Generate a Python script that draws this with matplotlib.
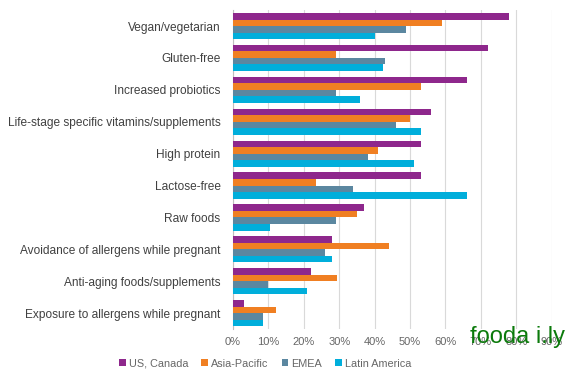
import matplotlib.pyplot as plt
import numpy as np

plt.rcParams['font.family'] = ['Liberation Sans', 'DejaVu Sans']

categories = ['Vegan/vegetarian', 'Gluten-free', 'Increased probiotics',
              'Life-stage specific vitamins/supplements', 'High protein',
              'Lactose-free', 'Raw foods', 'Avoidance of allergens while pregnant',
              'Anti-aging foods/supplements', 'Exposure to allergens while pregnant']
series_names = ['US, Canada', 'Asia-Pacific', 'EMEA', 'Latin America']
us_canada = [78, 72, 66, 56, 53, 53, 37, 28, 22, 3]
asia_pacific = [59, 29, 53, 50, 41, 23.5, 35, 44, 29.5, 12]
emea = [49, 43, 29, 46, 38, 34, 29, 26, 10, 8.5]
latin_america = [40, 42.5, 36, 53, 51, 66, 10.5, 28, 21, 8.5]
xticks = [0, 10, 20, 30, 40, 50, 60, 70, 80, 90]
colors = ['#8E278C', '#F07F22', '#5B87A0', '#00AEDB']

fig = plt.figure(figsize=(5.74, 3.74), dpi=100)
ax = fig.add_axes([0.406, 0.12, 0.555, 0.853])

y = np.arange(len(categories))
h = 0.205
all_series = [us_canada, asia_pacific, emea, latin_america]
for i, (vals, name, c) in enumerate(zip(all_series, series_names, colors)):
    ax.barh(y + (i - 1.5) * h, vals, height=h, color=c, label=name, zorder=3)

ax.set_ylim(len(categories) - 0.5, -0.5)
ax.set_xlim(0, 90)
ax.set_yticks(y)
ax.set_yticklabels(categories, fontsize=8.6, color='#404040')
ax.set_xticks(xticks)
ax.set_xticklabels([f'{t}%' for t in xticks], fontsize=8, color='#666666')
ax.tick_params(axis='y', length=0, pad=9)
ax.tick_params(axis='x', length=0, pad=6)
ax.grid(axis='x', color='#d9d9d9', linewidth=0.8, zorder=0)
for s in ['top', 'right', 'bottom']:
    ax.spines[s].set_visible(False)
ax.spines['left'].set_color('#bfbfbf')

leg = fig.legend(loc='lower center', bbox_to_anchor=(0.462, -0.012), ncol=4, frameon=False,
                 fontsize=7.8, handlelength=0.6, handleheight=0.6, handletextpad=0.3,
                 columnspacing=1.2, labelcolor='#666666')

fig.text(0.818, 0.1, 'fooda i.ly', fontsize=17, color='#0B7A0B', ha='left', va='center')

fig.savefig('out.png', dpi=100)
